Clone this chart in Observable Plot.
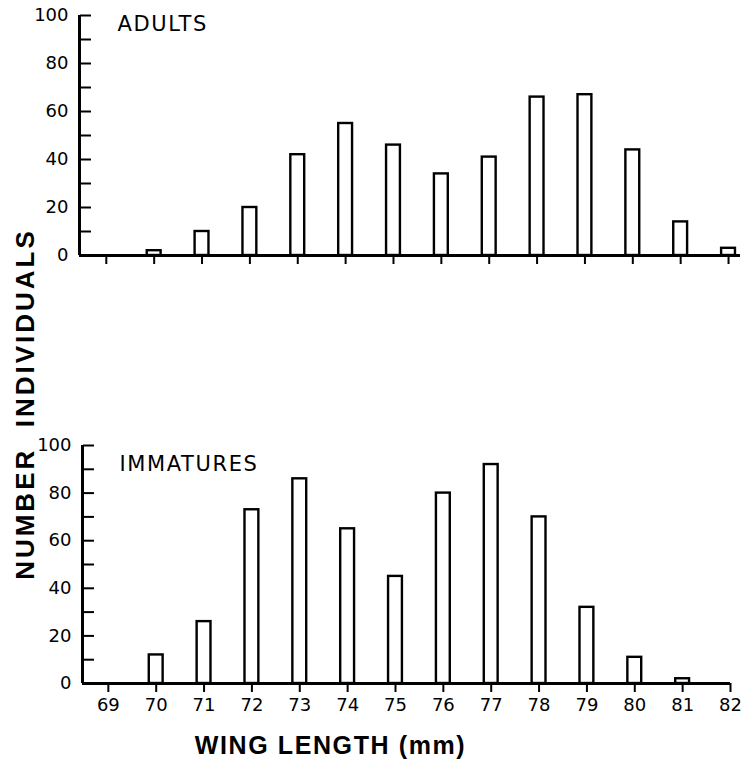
<!DOCTYPE html>
<html>
<head>
<meta charset="utf-8">
<script src="https://cdn.jsdelivr.net/npm/d3@7"></script>
<script src="https://cdn.jsdelivr.net/npm/@observablehq/plot@0.6"></script>
<style>
  body { margin: 0; background: #fff; }
  #wrap { position: relative; width: 747px; height: 768px; overflow: hidden; background: #fff; }
  #top, #bottom { position: absolute; left: 0; }
  #top { top: 0; }
  #bottom { top: 420px; }
  #ylab {
    position: absolute; left: 25px; top: 404px;
    transform: translate(-50%, -50%) rotate(-90deg);
    font: bold 26px "Liberation Sans", Arial, sans-serif;
    letter-spacing: 3px; white-space: pre; color: #000;
  }
</style>
</head>
<body>
<div id="wrap">
  <div id="top"></div>
  <div id="bottom"></div>
  <div id="ylab"></div>
</div>
<script>
// ---- data ----
const wingLengths = [69, 70, 71, 72, 73, 74, 75, 76, 77, 78, 79, 80, 81, 82];
const adults      = [0, 2, 10, 20, 42, 55, 46, 34, 41, 66, 67, 44, 14, 3];
const immatures   = [0, 12, 26, 73, 86, 65, 45, 80, 92, 70, 32, 11, 2, 0];
const yTicks  = [0, 10, 20, 30, 40, 50, 60, 70, 80, 90, 100];
const yLabels = [0, 20, 40, 60, 80, 100];
const panelTitles = ["ADULTS", "IMMATURES"];
const xTitle = "WING LENGTH (mm)";
const yTitle = "NUMBER  INDIVIDUALS";

const toRows = (vals) => wingLengths.map((w, i) => ({w, n: vals[i]})).filter(d => d.n > 0);

const tickFont = "'DejaVu Sans', sans-serif";
const boldFont = "'Liberation Sans', Arial, sans-serif";

function panel({rows, xDomain, width, height, marginLeft, marginRight, marginTop, marginBottom, title, titleDx, titleDy, xLabels, extra}) {
  const svg = Plot.plot({
    width, height, marginLeft, marginRight, marginTop, marginBottom,
    x: {domain: xDomain},
    y: {domain: [0, 100]},
    style: {fontFamily: tickFont, fontSize: "18px", color: "#000", background: "transparent", overflow: "visible"},
    marks: [
      Plot.rectY(rows, {
        x1: d => d.w - 0.5, x2: d => d.w + 0.5, y: "n",
        insetLeft: 17, insetRight: 17,
        fill: "white", stroke: "black", strokeWidth: 2.4
      }),
      Plot.ruleY([0], {stroke: "black", strokeWidth: 3}),
      Plot.ruleX([xDomain[0]], {stroke: "black", strokeWidth: 3}),
      Plot.axisX({
        ticks: wingLengths, tickSize: 9, tickPadding: 6, strokeWidth: 2,
        tickFormat: xLabels ? (d => String(d)) : (() => ""),
        label: null, fontSize: 18
      }),
      Plot.axisY({ticks: yLabels, tickSize: 0, tickPadding: 11, label: null, fontSize: 18}),
      Plot.axisY({
        ticks: yTicks, anchor: "right", frameAnchor: "left",
        tickSize: 11, strokeWidth: 2, tickFormat: () => "", label: null
      }),
      Plot.text([title], {
        frameAnchor: "top-left", dx: titleDx, dy: titleDy,
        textAnchor: "start", lineAnchor: "middle",
        fontSize: 21, fontFamily: tickFont, fill: "black"
      }),
      ...(extra || [])
    ]
  });
  return svg;
}

const topSvg = panel({
  rows: toRows(adults), xDomain: [68.44, 82.25],
  width: 747, height: 280, marginLeft: 79, marginRight: 7, marginTop: 15, marginBottom: 25,
  title: panelTitles[0], titleDx: 38, titleDy: 9, xLabels: false
});

const bottomSvg = panel({
  rows: toRows(immatures), xDomain: [68.46, 82],
  width: 747, height: 348, marginLeft: 82, marginRight: 17, marginTop: 25, marginBottom: 85,
  title: panelTitles[1], titleDx: 37, titleDy: 19, xLabels: true,
  extra: [
    Plot.text([xTitle], {
      frameAnchor: "bottom-left", dx: 248, dy: 62,
      textAnchor: "middle", lineAnchor: "middle",
      fontSize: 25, fontWeight: "bold", fontFamily: boldFont, fill: "black"
    })
  ]
});

document.getElementById("top").appendChild(topSvg);
document.getElementById("bottom").appendChild(bottomSvg);
document.getElementById("ylab").textContent = yTitle;

// letter spacing for lettered titles
for (const svg of [topSvg, bottomSvg]) {
  d3.select(svg).selectAll("g[aria-label='text'] text").style("letter-spacing", "1.6px");
}
</script>
</body>
</html>
